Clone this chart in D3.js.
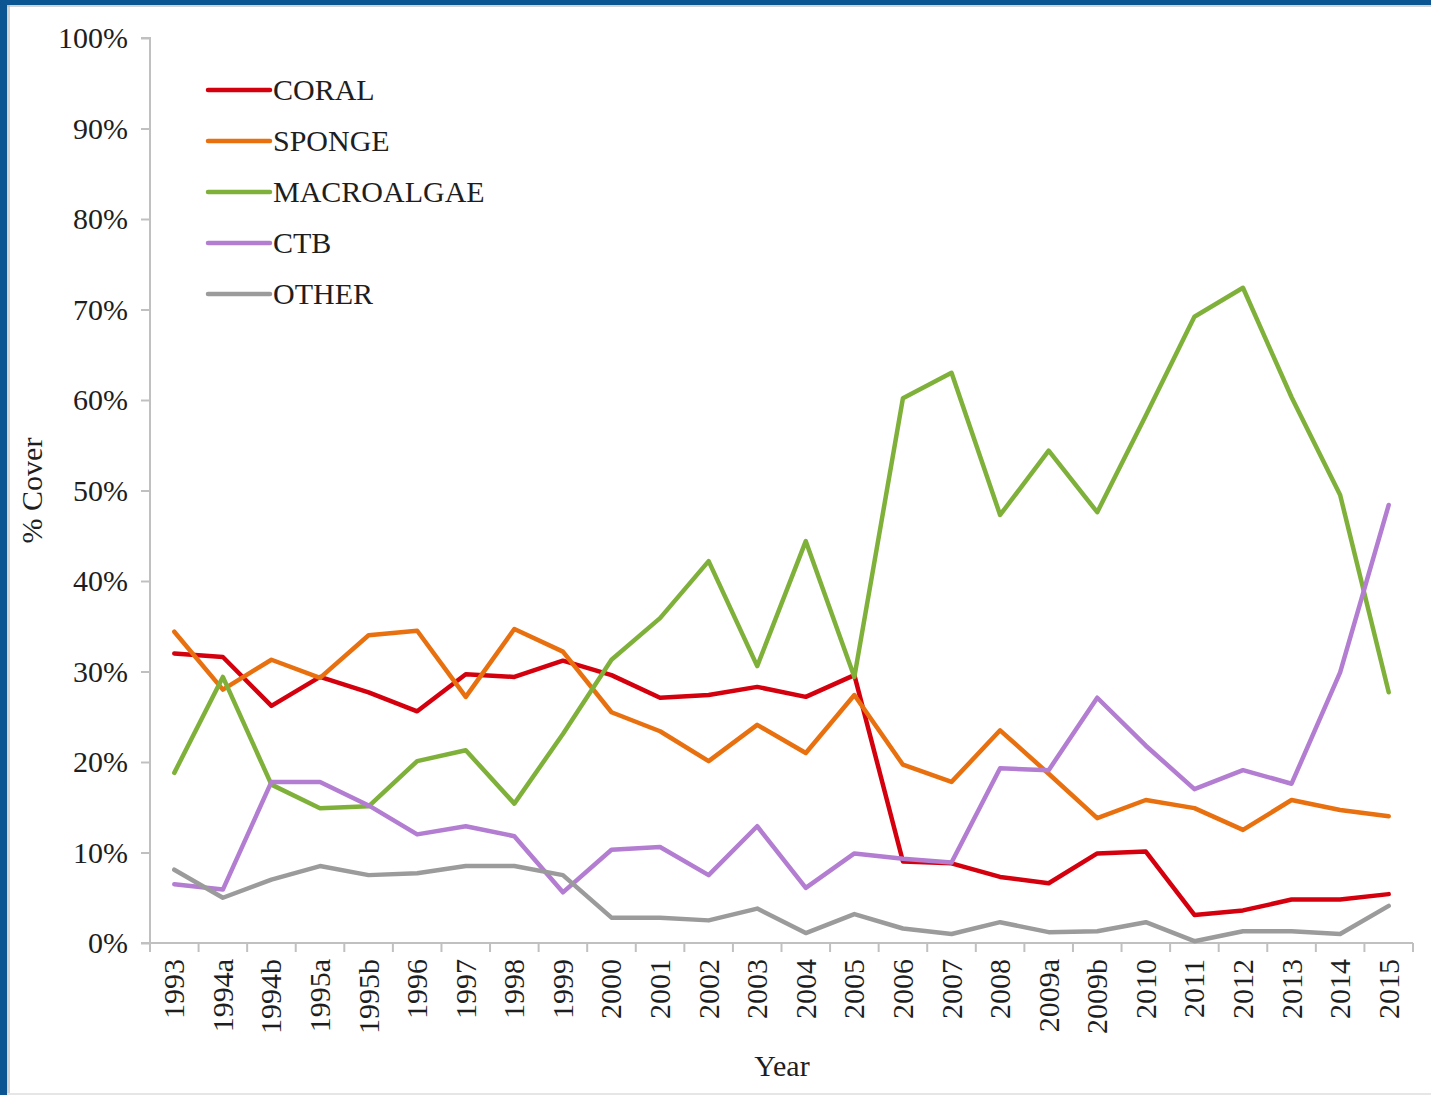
<!DOCTYPE html>
<html>
<head>
<meta charset="utf-8">
<script src="https://cdn.jsdelivr.net/npm/d3@7"></script>
<style>
  html, body { margin: 0; padding: 0; background: #ffffff; }
  svg { display: block; }
</style>
</head>
<body>
<script>
// Survey periods along the horizontal axis
const categories = ["1993","1994a","1994b","1995a","1995b","1996","1997","1998","1999","2000",
  "2001","2002","2003","2004","2005","2006","2007","2008","2009a","2009b","2010","2011","2012",
  "2013","2014","2015"];

// Percent cover by benthic group
const coral = [32.0,31.6,26.2,29.4,27.7,25.6,29.7,29.4,31.2,29.6,27.1,27.4,28.3,27.2,29.6,9.0,8.8,7.3,6.6,9.9,10.1,3.1,3.6,4.8,4.8,5.4];
const sponge = [34.4,28.0,31.3,29.3,34.0,34.5,27.2,34.7,32.2,25.5,23.4,20.1,24.1,21.0,27.4,19.7,17.8,23.5,18.7,13.8,15.8,14.9,12.5,15.8,14.7,14.0];
const macroalgae = [18.8,29.4,17.5,14.9,15.1,20.1,21.3,15.4,23.1,31.3,35.9,42.2,30.6,44.4,29.4,60.2,63.0,47.3,54.4,47.6,58.3,69.2,72.4,60.3,49.5,27.7];
const ctb = [6.5,5.9,17.8,17.8,15.2,12.0,12.9,11.8,5.6,10.3,10.6,7.5,12.9,6.1,9.9,9.3,8.9,19.3,19.1,27.1,21.8,17.0,19.1,17.6,29.9,48.4];
const other = [8.1,5.0,7.0,8.5,7.5,7.7,8.5,8.5,7.5,2.8,2.8,2.5,3.8,1.1,3.2,1.6,1.0,2.3,1.2,1.3,2.3,0.2,1.3,1.3,1.0,4.1];

const seriesNames = ["CORAL","SPONGE","MACROALGAE","CTB","OTHER"];
const seriesValues = [coral, sponge, macroalgae, ctb, other];
const seriesColors = ["#d4000d","#e8700f","#7fb13a","#b37dd2","#9b9b9b"];

const yTicks = [0,10,20,30,40,50,60,70,80,90,100];

const W = 1431, H = 1095;
const plot = { left: 150, right: 1413, top: 38, bottom: 943 };
const font = "'Liberation Serif', 'Times New Roman', serif";
const fontSize = 30;
const textColor = "#1e1e1e";
const axisColor = "#c0c0c0";

const svg = d3.select("body").append("svg").attr("width", W).attr("height", H);

// Frame: white card with a blue border on the top and left edges
svg.append("rect").attr("x", 0).attr("y", 0).attr("width", W).attr("height", H).attr("fill", "#ffffff");
svg.append("rect").attr("x", 0).attr("y", 0).attr("width", W).attr("height", 5).attr("fill", "#0b5592");
svg.append("rect").attr("x", 0).attr("y", 0).attr("width", 7).attr("height", H).attr("fill", "#0b5592");
svg.append("rect").attr("x", 7).attr("y", 5).attr("width", 3).attr("height", H - 5).attr("fill", "#b8b8b8").attr("opacity", 0.6);
svg.append("rect").attr("x", 7).attr("y", 5).attr("width", W - 7).attr("height", 2).attr("fill", "#b8b8b8").attr("opacity", 0.6);
svg.append("rect").attr("x", 7).attr("y", H - 2).attr("width", W - 7).attr("height", 2).attr("fill", "#e6e6e6");

const x = d3.scaleBand().domain(categories).range([plot.left, plot.right]);
const y = d3.scaleLinear().domain([0, 100]).range([plot.bottom, plot.top]);

// Y axis
const yAxis = d3.axisLeft(y).tickValues(yTicks).tickSize(9).tickPadding(13)
  .tickFormat(d => d + "%");
const gy = svg.append("g").attr("transform", `translate(${plot.left},0)`).call(yAxis);
gy.select(".domain").attr("stroke", axisColor).attr("stroke-width", 2).attr("d", `M-9,${plot.top}H0V${plot.bottom}`);
gy.selectAll(".tick line").attr("stroke", axisColor).attr("stroke-width", 2);
gy.selectAll(".tick text").attr("font-family", font).attr("font-size", fontSize).attr("fill", textColor);

// X axis: ticks at category boundaries, labels rotated
const gx = svg.append("g").attr("transform", `translate(0,${plot.bottom})`);
gx.append("line").attr("x1", plot.left - 9).attr("x2", plot.right).attr("y1", 0).attr("y2", 0)
  .attr("stroke", axisColor).attr("stroke-width", 2);
const boundaries = categories.map(c => x(c)).concat([plot.right]);
gx.selectAll("line.tk").data(boundaries).join("line").attr("class", "tk")
  .attr("x1", d => d).attr("x2", d => d).attr("y1", 0).attr("y2", 9)
  .attr("stroke", axisColor).attr("stroke-width", 2);
gx.selectAll("text").data(categories).join("text")
  .attr("transform", d => `translate(${x(d) + x.bandwidth() / 2 + 10},${16}) rotate(-90)`)
  .attr("text-anchor", "end")
  .attr("font-family", font).attr("font-size", fontSize).attr("fill", textColor)
  .text(d => d);

// Axis titles
svg.append("text").attr("transform", `translate(42,${(plot.top + plot.bottom) / 2}) rotate(-90)`)
  .attr("text-anchor", "middle").attr("font-family", font).attr("font-size", fontSize).attr("fill", textColor)
  .text("% Cover");
svg.append("text").attr("x", 782).attr("y", 1076)
  .attr("text-anchor", "middle").attr("font-family", font).attr("font-size", fontSize).attr("fill", textColor)
  .text("Year");

// Lines
const line = d3.line().x((d, i) => x(categories[i]) + x.bandwidth() / 2).y(d => y(d));
seriesValues.forEach((vals, k) => {
  svg.append("path").datum(vals)
    .attr("fill", "none").attr("stroke", seriesColors[k]).attr("stroke-width", 4.5)
    .attr("stroke-linejoin", "round").attr("stroke-linecap", "round")
    .attr("d", line);
});

// Legend
const legend = svg.append("g").attr("transform", "translate(208,90)");
seriesNames.forEach((name, k) => {
  const gy0 = k * 51;
  legend.append("line").attr("x1", 0).attr("x2", 62).attr("y1", gy0).attr("y2", gy0)
    .attr("stroke", seriesColors[k]).attr("stroke-width", 4.5).attr("stroke-linecap", "round");
  legend.append("text").attr("x", 65).attr("y", gy0 + 10)
    .attr("font-family", font).attr("font-size", fontSize).attr("fill", textColor)
    .text(name);
});
</script>
</body>
</html>
